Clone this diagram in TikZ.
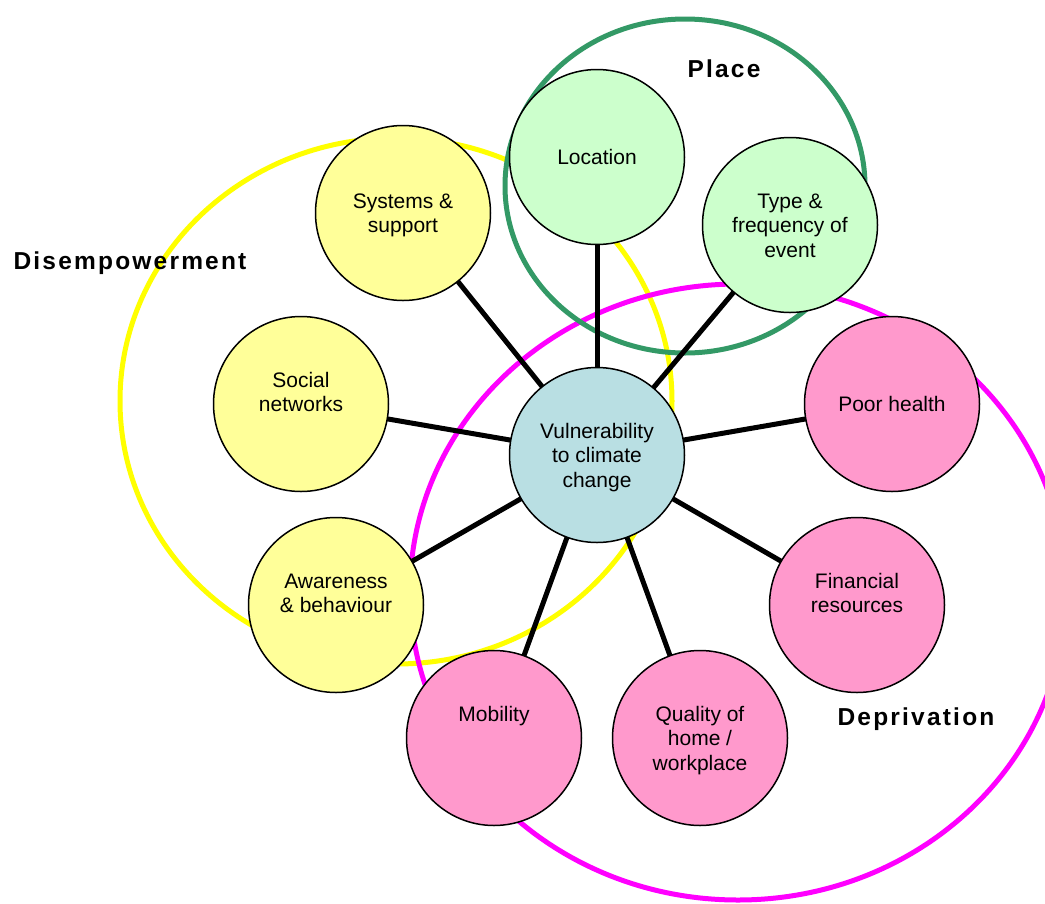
\documentclass[tikz,border=0pt]{standalone}
\usepackage{fontspec}
\setmainfont{Liberation Sans}
\newfontfamily\grpfont[LetterSpace=9]{Liberation Sans Bold}
\newcommand\lnstrut{\rule[-4.5pt]{0pt}{24pt}}
\pgfdeclarelayer{rings}
\pgfdeclarelayer{links}
\pgfsetlayers{rings,links,main}
\definecolor{ringgreen}{HTML}{339966}
\definecolor{ringyellow}{HTML}{FFFF00}
\definecolor{ringmagenta}{HTML}{FF00FF}
\definecolor{fillgreen}{HTML}{CCFFCC}
\definecolor{fillyellow}{HTML}{FFFF99}
\definecolor{fillpink}{HTML}{FF99CC}
\definecolor{fillblue}{HTML}{B9DFE3}
\begin{document}
\begin{tikzpicture}[x=1pt,y=-1pt,
  bub/.style={circle, draw=black, line width=1.5pt, minimum size=175pt, inner sep=0pt,
    align=center, font=\fontsize{21}{24.5}\selectfont},
  ring/.style={line width=5pt},
  conn/.style={draw=black, line width=5pt},
  grp/.style={anchor=base, inner sep=0pt, font=\grpfont\fontsize{24.5}{28}\selectfont}]
\useasboundingbox (0,0) rectangle (1045,903);

% outer circles
\begin{pgfonlayer}{rings}
\draw[ring, ringyellow] (396,401) ellipse [x radius=276, y radius=263];
\draw[ring, ringmagenta] (738,592) ellipse [x radius=328, y radius=308];
\draw[ring, ringgreen] (685,186) ellipse [x radius=180, y radius=167];
\end{pgfonlayer}

% nodes
\node[bub, fill=fillblue] (ctr) at (597,455) {\lnstrut Vulnerability\\\lnstrut to climate\\\lnstrut change};
\node[bub, fill=fillgreen] (loc) at (597,157) {\lnstrut Location};
\node[bub, fill=fillgreen] (type) at (790,225) {\lnstrut Type \&\\\lnstrut frequency of\\\lnstrut event};
\node[bub, fill=fillyellow] (sys) at (403,213) {\lnstrut Systems \&\\\lnstrut support};
\node[bub, fill=fillyellow] (soc) at (301,404) {\lnstrut Social\\\lnstrut networks\\\lnstrut};
\node[bub, fill=fillyellow] (aware) at (336,605) {\lnstrut Awareness\\\lnstrut \& behaviour\\\lnstrut};
\node[bub, fill=fillpink] (mob) at (494,738) {\lnstrut Mobility\\\lnstrut\\\lnstrut};
\node[bub, fill=fillpink] (qual) at (700,738) {\lnstrut Quality of\\\lnstrut home /\\\lnstrut workplace};
\node[bub, fill=fillpink] (fin) at (857,605) {\lnstrut Financial\\\lnstrut resources\\\lnstrut};
\node[bub, fill=fillpink] (health) at (892,404) {\lnstrut Poor health};

% connectors
\begin{pgfonlayer}{links}
\foreach \n in {loc,type,sys,soc,aware,mob,qual,fin,health}
  \draw[conn] (ctr.center) -- (\n.center);
\end{pgfonlayer}

% group labels
\node[grp] (lplace) at (724,77) {Place};
\node[grp] (ldis) at (130,269) {Disempowerment};
\node[grp] (ldep) at (916,725) {Deprivation};
\end{tikzpicture}
\end{document}
